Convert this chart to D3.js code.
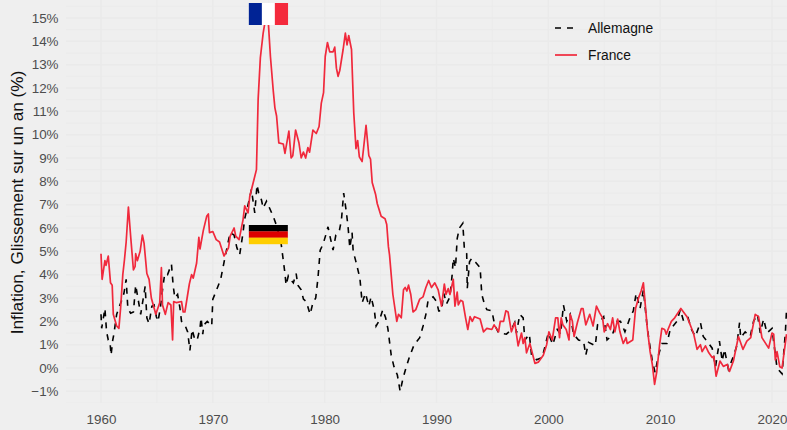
<!DOCTYPE html>
<html><head><meta charset="utf-8">
<script src="https://cdnjs.cloudflare.com/ajax/libs/d3/7.8.5/d3.min.js"></script>
<style>html,body{margin:0;padding:0;background:#EFEFEF}svg{display:block}text{font-family:"Liberation Sans",Arial,sans-serif}</style>
</head><body><svg id="c" width="787" height="430"></svg>
<script>
const france=[[1960,4.9],[1960.1,3.8],[1960.35,4.6],[1960.45,4.4],[1960.65,4.8],[1960.85,3.65],[1961,3.55],[1961.1,2.3],[1961.4,1.8],[1961.6,1.7],[1961.75,2.55],[1961.95,4],[1962.1,4.65],[1962.25,5.4],[1962.45,6.9],[1962.65,5.65],[1962.9,4.2],[1963.05,4.35],[1963.1,4.9],[1963.25,4.6],[1963.5,5],[1963.7,5.7],[1963.85,5.35],[1964.1,4.05],[1964.3,3.8],[1964.5,3],[1964.9,2.3],[1965.25,2.8],[1965.4,4.3],[1965.5,2.7],[1965.75,2.3],[1966,2.8],[1966.25,2.7],[1966.4,1.2],[1966.5,2.85],[1966.75,2.8],[1967.2,2.85],[1967.35,2.4],[1967.5,2.4],[1967.7,3],[1967.9,3.6],[1968.1,4],[1968.25,3.85],[1968.55,4.5],[1968.75,5.6],[1968.85,5.1],[1969.15,5.9],[1969.45,6.5],[1969.6,6.6],[1969.7,5.8],[1970,5.85],[1970.3,5.5],[1970.6,5.4],[1971,4.8],[1971.4,5.15],[1971.55,5.65],[1971.9,6],[1972.05,5.65],[1972.35,5.5],[1972.7,6.35],[1972.85,6.95],[1973.15,6.65],[1973.3,7.35],[1973.9,8.5],[1974.05,11.5],[1974.25,13.3],[1974.5,14.35],[1974.8,15.2],[1974.95,14.9],[1975.15,13.35],[1975.4,11.9],[1975.55,11.15],[1975.7,10.8],[1975.9,9.65],[1976.3,9.6],[1976.45,9.2],[1976.8,10.15],[1977,9],[1977.15,9.1],[1977.4,10.2],[1977.7,9.65],[1977.9,9],[1978.1,9.25],[1978.3,9],[1978.5,9.45],[1978.65,9.25],[1978.95,10.2],[1979.25,10.05],[1979.5,10.35],[1979.7,11.35],[1979.9,11.8],[1980.05,13.35],[1980.25,13.95],[1980.45,13.55],[1980.75,13.55],[1980.9,13.75],[1981.05,12.85],[1981.2,12.5],[1981.35,12.75],[1981.65,13.65],[1981.85,14.35],[1982,13.85],[1982.15,14.25],[1982.4,13.65],[1982.6,10.95],[1982.8,9.4],[1982.95,9.75],[1983.1,9.05],[1983.35,8.85],[1983.7,10.4],[1983.95,9.1],[1984.1,8.95],[1984.25,7.95],[1984.55,7.45],[1984.7,7.05],[1985.05,6.5],[1985.4,6.4],[1985.55,6.15],[1985.7,5.2],[1985.8,4.85],[1986.1,3.15],[1986.45,2],[1986.6,2.3],[1986.85,2.15],[1987.05,3.35],[1987.2,3.45],[1987.35,3.3],[1987.5,3.55],[1987.7,3.15],[1987.9,2.4],[1988.15,2.5],[1988.5,2.95],[1988.8,3.05],[1989.05,3.45],[1989.3,3.75],[1989.55,3.45],[1989.85,3.65],[1990.15,3.35],[1990.45,2.65],[1990.7,3.6],[1990.85,3.15],[1991.05,3.4],[1991.2,3.15],[1991.5,3.8],[1991.65,2.65],[1991.85,3.25],[1991.95,2.7],[1992.15,2.9],[1992.35,2.85],[1992.6,2.15],[1992.8,1.65],[1993,2.2],[1993.2,2],[1993.4,2.2],[1993.9,2.1],[1994.2,1.55],[1994.5,1.7],[1994.95,1.65],[1995.15,1.85],[1995.55,1.55],[1995.7,2],[1996,2],[1996.2,2.45],[1996.4,2.4],[1996.7,1.55],[1997,1.95],[1997.3,.95],[1997.6,1.5],[1997.75,1.05],[1997.9,1.3],[1998.05,.65],[1998.35,1.05],[1998.8,.2],[1999.1,.25],[1999.55,.55],[1999.85,1],[2000.05,1.55],[2000.35,1.2],[2000.65,2.15],[2000.85,2.15],[2001,1.3],[2001.15,2.15],[2001.3,1.85],[2001.6,1.65],[2001.85,1.2],[2001.95,2.3],[2002.15,2],[2002.3,1.35],[2002.6,1.95],[2002.95,2.55],[2003.1,2.55],[2003.35,1.85],[2003.7,2.3],[2004,1.8],[2004.3,2.65],[2004.6,2.35],[2004.85,2.15],[2005,1.55],[2005.3,1.9],[2005.55,1.65],[2005.75,2.15],[2005.95,1.55],[2006.2,2.1],[2006.4,1.55],[2006.7,1.05],[2006.95,1.3],[2007.05,1.05],[2007.55,1.2],[2007.8,2.55],[2008.1,3.05],[2008.3,3.3],[2008.5,3.65],[2008.85,1.7],[2009.1,.7],[2009.3,.15],[2009.5,-.7],[2009.7,-.15],[2009.95,1],[2010.15,1.7],[2010.4,1.65],[2010.55,1.45],[2010.7,1.65],[2011,2],[2011.3,2.15],[2011.85,2.55],[2012.4,2.2],[2012.85,1.65],[2013,1.45],[2013.3,.8],[2013.6,1],[2013.75,.7],[2014.05,.95],[2014.35,.65],[2014.65,.45],[2014.8,.5],[2015,-.35],[2015.35,.3],[2015.65,.07],[2016,.15],[2016.2,-.15],[2016.55,.3],[2017,1.35],[2017.4,.8],[2017.75,1.15],[2018.1,1.3],[2018.5,2.3],[2018.8,2.2],[2019.1,1.3],[2019.7,.85],[2020,1.5],[2020.15,1.45],[2020.3,.35],[2020.45,.7],[2020.7,.05],[2020.9,0],[2021.3,1.45]];
const allemagne=[[1960,2.3],[1960.06,1.7],[1960.35,2.55],[1960.5,1.55],[1960.65,1.2],[1960.8,1.15],[1960.9,.55],[1961.05,1.2],[1961.15,1.45],[1961.4,2.3],[1961.65,2.65],[1961.85,2.9],[1962.05,3.2],[1962.25,3.8],[1962.4,2.55],[1962.65,2.35],[1962.9,2.4],[1963.1,3.55],[1963.3,3],[1963.55,2.3],[1963.95,3.5],[1964.1,2.15],[1964.3,1.9],[1964.55,2.65],[1964.75,2.7],[1964.95,2.2],[1965.1,2],[1965.3,2.55],[1965.5,3.35],[1965.7,4.05],[1965.95,4],[1966.3,4.45],[1966.45,3.55],[1966.6,3],[1966.85,3.15],[1967.05,2.6],[1967.2,2],[1967.5,1.85],[1967.75,1.55],[1967.95,.75],[1968.15,1.65],[1968.4,1.2],[1968.6,1.2],[1968.85,1.7],[1968.95,2.15],[1969.1,1.45],[1969.2,1.85],[1969.5,2],[1969.9,1.8],[1970,2.95],[1970.3,3.3],[1970.7,3.8],[1971.05,4.65],[1971.35,5.35],[1971.55,5.8],[1971.9,5.7],[1972.15,5.15],[1972.4,4.85],[1972.7,5.8],[1972.85,6.4],[1973.3,7.3],[1973.45,7.65],[1973.75,6.65],[1973.95,7.85],[1974.1,7.5],[1974.35,7.2],[1974.5,6.85],[1974.8,7.15],[1975.4,6.5],[1975.7,6.1],[1976.1,5.35],[1976.25,4.8],[1976.45,4.05],[1976.55,3.55],[1976.75,3.95],[1976.95,3.8],[1977.2,3.65],[1977.45,4.05],[1977.6,3.55],[1977.9,3.35],[1978.1,2.95],[1978.35,2.85],[1978.7,2.3],[1978.95,2.8],[1979.2,3],[1979.4,3.85],[1979.6,5.05],[1979.85,5.3],[1980.1,5.7],[1980.3,6.05],[1980.45,5.7],[1980.75,5.05],[1981,5.7],[1981.3,5.85],[1981.5,6.35],[1981.7,7.5],[1981.95,6.65],[1982.1,6],[1982.25,5.15],[1982.45,5.8],[1982.55,5],[1982.8,4.55],[1983.15,3.85],[1983.35,2.8],[1983.65,3.2],[1983.95,2.65],[1984.15,3.05],[1984.45,2.45],[1984.6,1.8],[1984.9,2.05],[1985.2,2.5],[1985.45,2.15],[1985.65,1.7],[1985.95,.55],[1986.2,.05],[1986.5,-.3],[1986.75,-1],[1987,-.45],[1987.3,.05],[1987.6,.5],[1988,1],[1988.5,1.3],[1988.8,1.8],[1989.05,2.3],[1989.25,2.9],[1989.7,3.05],[1990,2.85],[1990.2,2.45],[1990.45,2.45],[1990.65,3.2],[1990.9,2.75],[1991.2,3.05],[1991.4,4],[1991.5,4.7],[1991.7,4.3],[1991.85,5.55],[1992.05,6],[1992.35,6.2],[1992.5,5.05],[1992.7,4.9],[1992.75,3.4],[1992.95,4.55],[1993.15,4.7],[1993.55,4.5],[1993.9,4.3],[1994.05,3.15],[1994.25,2.8],[1994.5,2.5],[1994.95,2.45],[1995.2,1.85],[1995.55,1.5],[1996.25,1.45],[1996.7,1.65],[1997,1.95],[1997.15,1.5],[1997.45,2.3],[1997.75,2.15],[1997.9,1.2],[1998.3,1.45],[1998.5,.55],[1998.95,.35],[1999.45,.45],[2000,1.5],[2000.4,1],[2000.8,1.65],[2001.1,1.45],[2001.35,2.7],[2001.65,2],[2001.95,2.3],[2002.25,1.45],[2002.7,1.2],[2003.15,1.15],[2003.35,.55],[2003.6,1.1],[2004.2,.95],[2004.4,1.85],[2004.95,2.2],[2005.25,1.2],[2005.7,1.4],[2006.15,2],[2006.45,2],[2006.85,1.55],[2007.3,2.15],[2007.6,2.45],[2007.85,3.2],[2008.2,2.55],[2008.5,3.35],[2008.85,1.7],[2009.05,1.05],[2009.3,.3],[2009.55,-.2],[2009.85,.55],[2010.15,1.05],[2010.6,1.05],[2010.9,1.65],[2011.5,2],[2011.8,2.5],[2012.1,2],[2012.5,2.15],[2012.8,1.65],[2013.15,1.35],[2013.6,1.95],[2013.85,1.35],[2014.2,1.15],[2014.65,.85],[2014.95,.05],[2015.3,1.15],[2015.55,.3],[2015.75,.8],[2016.1,-.05],[2016.55,.5],[2016.85,.95],[2017.1,1.95],[2017.2,1.3],[2017.6,1.55],[2018.05,1.35],[2018.35,2],[2018.7,2.3],[2018.95,1.5],[2019.25,2.1],[2019.55,1.5],[2020,1.7],[2020.45,0],[2020.9,-.25],[2021.2,1.55],[2021.3,2.5]];
const yTicks=d3.range(-1,16);
const xTicks=[1960,1970,1980,1990,2000,2010,2020];
const seriesNames=["Allemagne","France"];
const yLabel="Inflation, Glissement sur un an (%)";

const W=787,H=430,panel={l:66,t:0,r:787,b:403};
const x=d3.scaleLinear().domain([1960,2020]).range([101,772]);
const y=d3.scaleLinear().domain([0,15]).range([368,18]);
const svg=d3.select("#c");
svg.append("rect").attr("width",W).attr("height",H).attr("fill","#EFEFEF");
svg.append("defs").append("clipPath").attr("id","p").append("rect").attr("x",panel.l).attr("y",panel.t).attr("width",panel.r-panel.l).attr("height",panel.b-panel.t);
const g=svg.append("g").attr("clip-path","url(#p)");
const minorY=d3.range(-1.5,16,1), minorX=d3.range(1955,2030,10);
const grid="#EAEAEA";
g.selectAll(".hm").data(minorY).join("line").attr("x1",panel.l).attr("x2",panel.r).attr("y1",y).attr("y2",y).attr("stroke",grid).attr("stroke-width",.8);
g.selectAll(".vm").data(minorX).join("line").attr("y1",panel.t).attr("y2",panel.b).attr("x1",x).attr("x2",x).attr("stroke",grid).attr("stroke-width",.8);
g.selectAll(".hM").data(yTicks).join("line").attr("x1",panel.l).attr("x2",panel.r).attr("y1",y).attr("y2",y).attr("stroke",grid).attr("stroke-width",1.5);
g.selectAll(".vM").data(xTicks).join("line").attr("y1",panel.t).attr("y2",panel.b).attr("x1",x).attr("x2",x).attr("stroke",grid).attr("stroke-width",1.5);

const line=d3.line().x(d=>x(d[0])).y(d=>y(d[1]));
g.append("path").attr("d",line(allemagne)).attr("fill","none").attr("stroke","#000").attr("stroke-width",1.6).attr("stroke-dasharray","6,6");
g.append("path").attr("d",line(france)).attr("fill","none").attr("stroke","#F0293C").attr("stroke-width",1.7).attr("stroke-linejoin","round");

function flagV(x0,y0,w,h,cols){cols.forEach((c,i)=>svg.append("rect").attr("x",x0+i*w/3).attr("y",y0).attr("width",w/3+.2).attr("height",h).attr("fill",c));}
function flagH(x0,y0,w,h,cols){cols.forEach((c,i)=>svg.append("rect").attr("x",x0).attr("y",y0+i*h/3).attr("width",w).attr("height",h/3+.2).attr("fill",c));}
flagV(x(1973.22),3,39,22,["#002395","#FFFFFF","#F42A3C"]);
flagH(x(1973.22),225,39,19,["#000000","#DD0000","#FFCE00"]);

const tickCol="#4D4D4D";
const ay=d3.axisLeft(y).tickValues(yTicks).tickSize(0).tickPadding(0).tickFormat(d=>(d<0?"\u2212"+(-d):d)+"%");
const gy=svg.append("g").attr("transform","translate(58.5,0)").call(ay);
gy.select(".domain").remove();
gy.selectAll("text").attr("fill",tickCol).attr("font-size",13.4);
const ax=d3.axisBottom(x).tickValues(xTicks).tickSize(0).tickPadding(0).tickFormat(d3.format("d"));
const gx=svg.append("g").attr("transform","translate(0,414)").call(ax);
gx.select(".domain").remove();
gx.selectAll("text").attr("fill",tickCol).attr("font-size",13.4);

svg.append("text").attr("transform","translate(22.5,202.5) rotate(-90)").attr("text-anchor","middle").attr("font-size",17.2).attr("fill","#111").text(yLabel);

const ly=[28,55];
seriesNames.forEach((n,i)=>{
  svg.append("line").attr("x1",555).attr("x2",577).attr("y1",ly[i]).attr("y2",ly[i]).attr("stroke",i?"#F0293C":"#000").attr("stroke-width",i?1.7:1.5).attr("stroke-dasharray",i?null:"6,6");
  svg.append("text").attr("x",588).attr("y",ly[i]+4.7).attr("font-size",13.8).attr("fill","#111").text(n);
});
</script></body></html>
